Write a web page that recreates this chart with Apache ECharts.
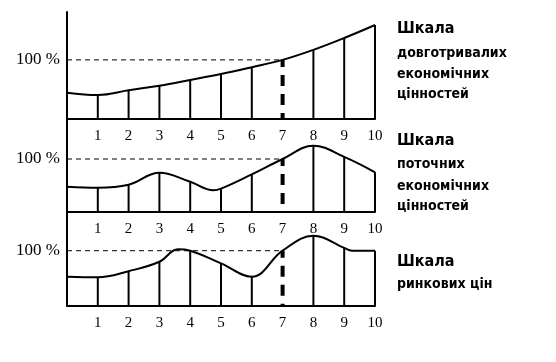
<!DOCTYPE html>
<html>
<head>
<meta charset="utf-8">
<script src="https://cdn.jsdelivr.net/npm/echarts@6/dist/echarts.min.js"></script>
<style>
  html, body { margin: 0; padding: 0; background: #fff; }
  #chart { width: 556px; height: 362px; }
</style>
</head>
<body>
<div id="chart"></div>
<script>
// підписи осі X і рівня 100 %
var xTicks = ['1', '2', '3', '4', '5', '6', '7', '8', '9', '10'];
var pctLabel = '100 %';

// криві: положення на осі / значення у % (100 = рівень 100 %)
var longX = [0, 1, 2, 3, 4, 5, 6, 7, 8, 9, 10];
var longY = [44.6, 40.7, 48.6, 56.4, 66, 76, 87.6, 100, 117, 137, 159];

var currentX = [0, 1, 2, 3, 4, 4.75, 5, 6, 7, 8, 9, 10];
var currentY = [47.7, 45.8, 51.5, 74, 57, 41, 44, 71, 100, 125, 104, 75];

var marketX = [0, 1, 2, 3, 3.6, 4, 5, 6, 7, 8, 9, 9.25, 10];
var marketY = [53, 52, 63, 80, 102.5, 100, 77, 53, 100, 127, 105, 100, 100];

var scaleNames = [
    ['Шкала', 'довготривалих', 'економічних', 'цінностей'],
    ['Шкала', 'поточних', 'економічних', 'цінностей'],
    ['Шкала', 'ринкових цін']
];

var markX = 7;      // момент, позначений товстою пунктирною лінією
var level = 100;    // рівень 100 %

var panels = [
    { xs: longX, ys: longY, max: 181, top: 12, height: 107 },
    { xs: currentX, ys: currentY, max: 175.5, top: 119, height: 93 },
    { xs: marketX, ys: marketY, max: 170, top: 212, height: 94 }
];
// позиції підписів праворуч (центри рядків)
var nameRows = [[31, 55, 76, 96], [143, 166, 188, 208], [264, 286]];

var chart = echarts.init(document.getElementById('chart'));

var grids = [], xAxes = [], yAxes = [], series = [], graphics = [];

panels.forEach(function (p, i) {
    grids.push({ left: 67, width: 308, top: p.top, height: p.height, outerBoundsMode: 'none' });
    xAxes.push({
        gridIndex: i, type: 'value', min: 0, max: 10, interval: 1,
        axisLine: { onZero: false, lineStyle: { color: '#000', width: 2 } },
        axisTick: { show: false }, splitLine: { show: false },
        axisLabel: {
            margin: 10, color: '#000', fontFamily: 'Liberation Serif', fontSize: 15,
            formatter: function (v) { return xTicks[v - 1] || ''; }
        }
    });
    yAxes.push({
        gridIndex: i, type: 'value', min: 0, max: p.max, interval: 100,
        axisLine: { show: true, lineStyle: { color: '#000', width: 2 } },
        axisTick: { show: false }, splitLine: { show: false },
        axisLabel: {
            margin: 7, color: '#000', fontFamily: 'Liberation Serif', fontSize: 17,
            showMaxLabel: false,
            formatter: function (v) { return v === level ? pctLabel : ''; }
        }
    });

    var curve = p.xs.map(function (x, k) { return [x, p.ys[k]]; });
    // вертикальні лінії у цілих точках (крім позначеної пунктиром)
    var drops = curve.filter(function (d) {
        return d[0] >= 1 && d[0] % 1 === 0 && d[0] !== markX;
    });

    series.push({
        type: 'bar', xAxisIndex: i, yAxisIndex: i, data: drops,
        barWidth: 2, itemStyle: { color: '#000' }, silent: true
    });
    series.push({
        type: 'line', xAxisIndex: i, yAxisIndex: i,
        data: [[0, level], [markX, level]], symbol: 'none',
        lineStyle: { color: '#000', width: 1, type: [5, 4] }
    });
    series.push({
        type: 'line', xAxisIndex: i, yAxisIndex: i,
        data: [[markX, level], [markX, 0]], symbol: 'none',
        lineStyle: { color: '#000', width: 4, type: [11, 8], dashOffset: 4 }
    });
    series.push({
        type: 'line', xAxisIndex: i, yAxisIndex: i, data: curve,
        smooth: 0.4, symbol: 'none', z: 5,
        lineStyle: { color: '#000', width: 2 }
    });

    scaleNames[i].forEach(function (t, k) {
        graphics.push({
            type: 'text', left: 397, top: nameRows[i][k] - (k === 0 ? 10 : 9),
            style: {
                text: t, fill: '#000',
                font: k === 0 ? 'bold 16px "DejaVu Sans Condensed"' : 'bold 14px "DejaVu Sans Condensed"'
            }
        });
    });
});

chart.setOption({
    animation: false,
    grid: grids,
    xAxis: xAxes,
    yAxis: yAxes,
    series: series,
    graphic: graphics
});
</script>
</body>
</html>
